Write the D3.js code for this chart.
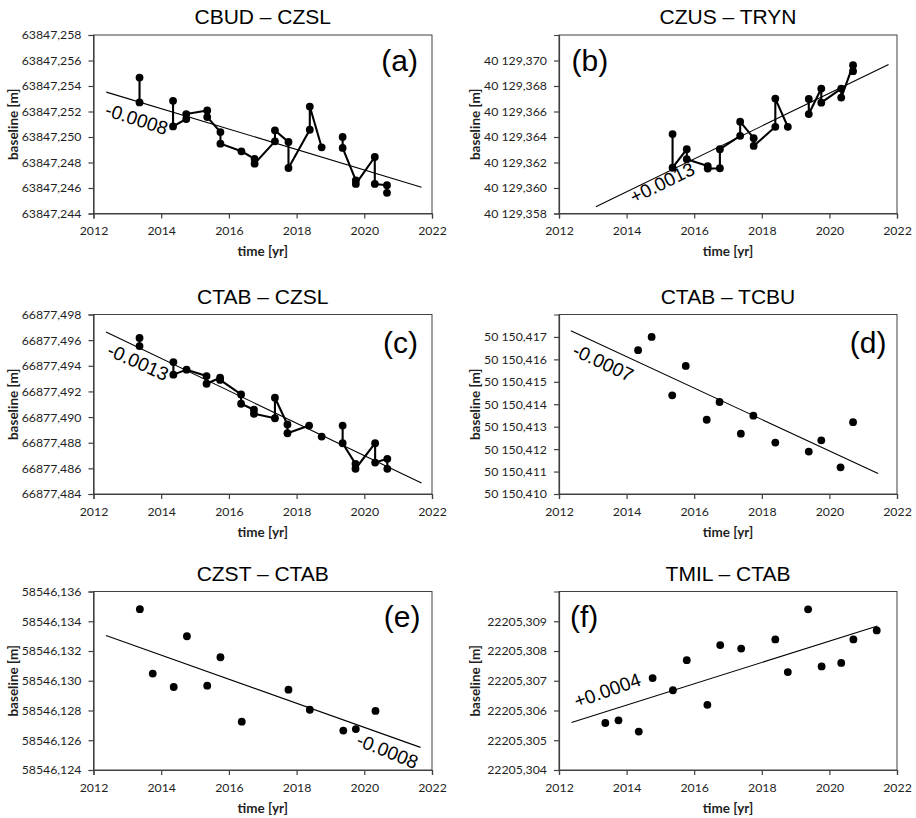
<!DOCTYPE html>
<html>
<head>
<meta charset="utf-8">
<script src="https://cdn.jsdelivr.net/npm/d3@7"></script>
<style>
  html, body { margin: 0; padding: 0; background: #ffffff; }
  svg { display: block; }
</style>
</head>
<body>
<svg id="chart" width="916" height="818"></svg>
<script>
// ---------------- DATA ----------------
const titles = ["CBUD – CZSL", "CZUS – TRYN", "CTAB – CZSL", "CTAB – TCBU", "CZST – CTAB", "TMIL – CTAB"];
const letters = ["(a)", "(b)", "(c)", "(d)", "(e)", "(f)"];
const slopeTexts = ["-0.0008", "+0.0013", "-0.0013", "-0.0007", "-0.0008", "+0.0004"];
const xTicks = [2012, 2014, 2016, 2018, 2020, 2022];

// (a) CBUD – CZSL  (null = break in connecting line)
const aYears  = [2013.36, 2013.36, null, 2014.35, 2014.35, 2014.74, 2014.74, 2015.36, 2015.36, 2015.75, 2015.75, 2016.37, 2016.76, 2016.76, 2017.36, 2017.36, 2017.76, 2017.76, 2018.39, 2018.39, 2018.74, null, 2019.36, 2019.36, 2019.75, 2019.75, 2020.31, 2020.31, 2020.67, 2020.67];
const aValues = [63847.25466, 63847.25271, null, 63847.25284, 63847.25083, 63847.25141, 63847.25180, 63847.25208, 63847.25156, 63847.25039, 63847.24948, 63847.24888, 63847.24828, 63847.24791, 63847.24966, 63847.25052, 63847.24961, 63847.24757, 63847.25057, 63847.25239, 63847.24919, null, 63847.25000, 63847.24914, 63847.24660, 63847.24632, 63847.24843, 63847.24632, 63847.24622, 63847.24562];
const aTrendYears = [2012.38, 2021.69];
const aTrendValues = [63847.25352, 63847.24606];
const aTicks = [63847.244, 63847.246, 63847.248, 63847.250, 63847.252, 63847.254, 63847.256, 63847.258];
const aDomain = [63847.244, 63847.258];

// (b) CZUS – TRYN
const bYears  = [2015.36, 2015.36, 2015.78, 2015.78, 2016.40, 2016.40, 2016.76, 2016.76, 2017.36, 2017.36, 2017.76, 2017.76, 2018.40, 2018.40, 2018.77, null, 2019.39, 2019.39, 2019.76, 2019.76, 2020.35, 2020.35, 2020.70, 2020.70];
const bValues = [40129.36423, 40129.36159, 40129.36304, 40129.36226, 40129.36172, 40129.36152, 40129.36155, 40129.36304, 40129.36409, 40129.36520, 40129.36391, 40129.36330, 40129.36480, 40129.36701, 40129.36480, null, 40129.36699, 40129.36580, 40129.36780, 40129.36669, 40129.36780, 40129.36709, 40129.36963, 40129.36916];
const bTrendYears = [2013.09, 2021.75];
const bTrendValues = [40129.35853, 40129.36969];
const bTicks = [40129.358, 40129.360, 40129.362, 40129.364, 40129.366, 40129.368, 40129.370];
const bDomain = [40129.358, 40129.372];

// (c) CTAB – CZSL
const cYears  = [2013.36, 2013.36, null, 2014.36, 2014.36, 2014.75, 2015.34, 2015.34, 2015.74, 2015.74, 2016.36, 2016.36, 2016.74, 2016.74, 2017.36, 2017.36, 2017.73, 2017.73, 2018.37, null, 2018.74, null, 2019.36, 2019.36, 2019.74, 2019.74, 2020.32, 2020.32, 2020.68, 2020.68];
const cValues = [66877.49617, 66877.49554, null, 66877.49429, 66877.49331, 66877.49370, 66877.49320, 66877.49260, 66877.49307, 66877.49290, 66877.49177, 66877.49104, 66877.49057, 66877.49026, 66877.48991, 66877.49151, 66877.48942, 66877.48874, 66877.48934, null, 66877.48848, null, 66877.48934, 66877.48796, 66877.48635, 66877.48597, 66877.48796, 66877.48645, 66877.48674, 66877.48596];
const cTrendYears = [2012.37, 2021.69];
const cTrendValues = [66877.49664, 66877.48486];
const cTicks = [66877.484, 66877.486, 66877.488, 66877.490, 66877.492, 66877.494, 66877.496, 66877.498];
const cDomain = [66877.484, 66877.498];

// (d) CTAB – TCBU
const dYears  = [2014.34, 2014.74, 2015.35, 2015.75, 2016.37, 2016.75, 2017.38, 2017.75, 2018.40, 2019.39, 2019.76, 2020.33, 2020.70];
const dValues = [50150.41641, 50150.41700, 50150.41440, 50150.41571, 50150.41331, 50150.41410, 50150.41269, 50150.41349, 50150.41229, 50150.41189, 50150.41239, 50150.41119, 50150.41320];
const dTrendYears = [2012.35, 2021.44];
const dTrendValues = [50150.41728, 50150.41091];
const dTicks = [50150.410, 50150.411, 50150.412, 50150.413, 50150.414, 50150.415, 50150.416, 50150.417];
const dDomain = [50150.410, 50150.418];

// (e) CZST – CTAB
const eYears  = [2013.37, 2013.75, 2014.37, 2014.76, 2015.36, 2015.75, 2016.38, 2017.76, 2018.39, 2019.38, 2019.75, 2020.33];
const eValues = [58546.13481, 58546.13048, 58546.12958, 58546.13299, 58546.12967, 58546.13158, 58546.12725, 58546.12940, 58546.12805, 58546.12665, 58546.12675, 58546.12797];
const eTrendYears = [2012.37, 2021.66];
const eTrendValues = [58546.13304, 58546.12552];
const eTicks = [58546.124, 58546.126, 58546.128, 58546.130, 58546.132, 58546.134, 58546.136];
const eDomain = [58546.124, 58546.136];

// (f) TMIL – CTAB
const fYears  = [2013.37, 2013.76, 2014.36, 2014.77, 2015.37, 2015.78, 2016.39, 2016.77, 2017.39, 2018.40, 2018.77, 2019.37, 2019.77, 2020.35, 2020.71, 2021.40];
const fValues = [22205.30558, 22205.30567, 22205.30529, 22205.30709, 22205.30668, 22205.30769, 22205.30619, 22205.30820, 22205.30808, 22205.30839, 22205.30729, 22205.30940, 22205.30748, 22205.30760, 22205.30839, 22205.30869];
const fTrendYears = [2012.37, 2021.42];
const fTrendValues = [22205.30560, 22205.30884];
const fTicks = [22205.304, 22205.305, 22205.306, 22205.307, 22205.308, 22205.309];
const fDomain = [22205.304, 22205.310];

// slope label anchor (data coordinates, start of baseline)
const slopeLabelYears  = [2012.31, 2014.22, 2012.37, 2012.36, 2019.73, 2012.53];
const slopeLabelValues = [63847.25170, 40129.35875, 66877.49484, 50150.41620, 58546.12568, 22205.30608];

// ---------------- LAYOUT / STYLE ----------------
const COLS = [{ left: 93.5, right: 432 }, { left: 559, right: 897 }];
const ROWS = [
  { top: 35,    bottom: 213.5, titleY: 24,  letterY: 71 },
  { top: 314.5, bottom: 494,   titleY: 304, letterY: 353 },
  { top: 591.5, bottom: 770,   titleY: 581, letterY: 627 }
];
const slopeAngles = [18, -26, 24, 25, 22, -19.6];
const letterPlace = [["end", -14], ["start", 12.5], ["end", -14], ["end", -10.5], ["end", -11.5], ["start", 11]];
const yLabelX = [13, 475];

const TICK_FONT = "Lato, 'Open Sans', sans-serif";
const ARIAL = "'Liberation Sans', Arial, sans-serif";

const spaceLocale = d3.formatLocale({ decimal: ",", thousands: " ", grouping: [3], currency: ["", ""] });
const plainLocale = d3.formatLocale({ decimal: ",", thousands: "", grouping: [3], currency: ["", ""] });

const panels = [
  { years: aYears, values: aValues, tY: aTrendYears, tV: aTrendValues, ticks: aTicks, domain: aDomain, connect: true,  fmt: plainLocale.format(".3f") },
  { years: bYears, values: bValues, tY: bTrendYears, tV: bTrendValues, ticks: bTicks, domain: bDomain, connect: true,  fmt: spaceLocale.format(",.3f") },
  { years: cYears, values: cValues, tY: cTrendYears, tV: cTrendValues, ticks: cTicks, domain: cDomain, connect: true,  fmt: plainLocale.format(".3f") },
  { years: dYears, values: dValues, tY: dTrendYears, tV: dTrendValues, ticks: dTicks, domain: dDomain, connect: false, fmt: spaceLocale.format(",.3f") },
  { years: eYears, values: eValues, tY: eTrendYears, tV: eTrendValues, ticks: eTicks, domain: eDomain, connect: false, fmt: plainLocale.format(".3f") },
  { years: fYears, values: fValues, tY: fTrendYears, tV: fTrendValues, ticks: fTicks, domain: fDomain, connect: false, fmt: plainLocale.format(".3f") }
];

const svg = d3.select("#chart");
svg.append("rect").attr("width", 916).attr("height", 818).attr("fill", "#ffffff");

panels.forEach((p, i) => {
  const col = COLS[i % 2], row = ROWS[Math.floor(i / 2)];
  const x = d3.scaleLinear().domain([2012, 2022]).range([col.left, col.right]);
  const y = d3.scaleLinear().domain(p.domain).range([row.bottom, row.top]);
  const g = svg.append("g");

  g.append("rect")
    .attr("x", col.left).attr("y", row.top)
    .attr("width", col.right - col.left).attr("height", row.bottom - row.top)
    .attr("fill", "none").attr("stroke", "#404040").attr("stroke-width", 1);

  const xAxis = d3.axisBottom(x).tickValues(xTicks).tickFormat(d3.format("d")).tickSize(5).tickPadding(8);
  const gx = g.append("g").attr("transform", `translate(0,${row.bottom})`).call(xAxis);
  const yAxis = d3.axisLeft(y).tickValues(p.ticks).tickFormat(p.fmt).tickSize(5).tickPadding(7);
  const gy = g.append("g").attr("transform", `translate(${col.left},0)`).call(yAxis);
  [gx, gy].forEach(ax => {
    ax.select(".domain").attr("stroke", "#404040").attr("stroke-width", 1.2);
    ax.selectAll(".tick line").attr("stroke", "#404040").attr("stroke-width", 1.2);
    ax.selectAll(".tick text").attr("fill", "#1f1f1f").style("font-family", TICK_FONT).style("font-size", "12.3px");
  });

  g.append("text")
    .attr("x", (col.left + col.right) / 2).attr("y", row.bottom + 38).attr("dy", "0.35em")
    .attr("text-anchor", "middle")
    .style("font-family", TICK_FONT).style("font-weight", "bold").style("font-size", "13.5px").attr("fill", "#1f1f1f")
    .text("time [yr]");
  g.append("text")
    .attr("transform", `translate(${yLabelX[i % 2]},${(row.top + row.bottom) / 2}) rotate(-90)`)
    .attr("dy", "0.35em").attr("text-anchor", "middle")
    .style("font-family", TICK_FONT).style("font-weight", "bold").style("font-size", "13.5px").attr("fill", "#1f1f1f")
    .text("baseline [m]");

  g.append("text")
    .attr("x", (col.left + col.right) / 2).attr("y", row.titleY)
    .attr("text-anchor", "middle")
    .style("font-family", ARIAL).style("font-size", "21px").attr("fill", "#000")
    .text(titles[i]);

  const trend = p.tY.map((t, k) => ({ t, v: p.tV[k] }));
  const line = d3.line().defined(d => d.v != null && d.t != null).x(d => x(d.t)).y(d => y(d.v));
  g.append("path").datum(trend).attr("d", line)
    .attr("fill", "none").attr("stroke", "#000").attr("stroke-width", 1.1);

  const pts = p.years.map((t, k) => ({ t, v: p.values[k] }));
  if (p.connect) {
    g.append("path").datum(pts).attr("d", line)
      .attr("fill", "none").attr("stroke", "#000").attr("stroke-width", 2.1).attr("stroke-linejoin", "round");
  }
  g.selectAll("circle.pt").data(pts.filter(d => d.v != null)).join("circle")
    .attr("class", "pt")
    .attr("cx", d => x(d.t)).attr("cy", d => y(d.v)).attr("r", 3.9).attr("fill", "#000");

  const lx = x(slopeLabelYears[i]), ly = y(slopeLabelValues[i]);
  g.append("text")
    .attr("transform", `translate(${lx},${ly}) rotate(${slopeAngles[i]})`)
    .style("font-family", ARIAL).style("font-size", "19px").attr("fill", "#000")
    .text(slopeTexts[i]);

  const [anch, off] = letterPlace[i];
  g.append("text")
    .attr("x", (anch === "end" ? col.right : col.left) + off).attr("y", row.letterY)
    .attr("text-anchor", anch)
    .style("font-family", ARIAL).style("font-size", "30px").attr("fill", "#000")
    .text(letters[i]);
});
</script>
</body>
</html>
